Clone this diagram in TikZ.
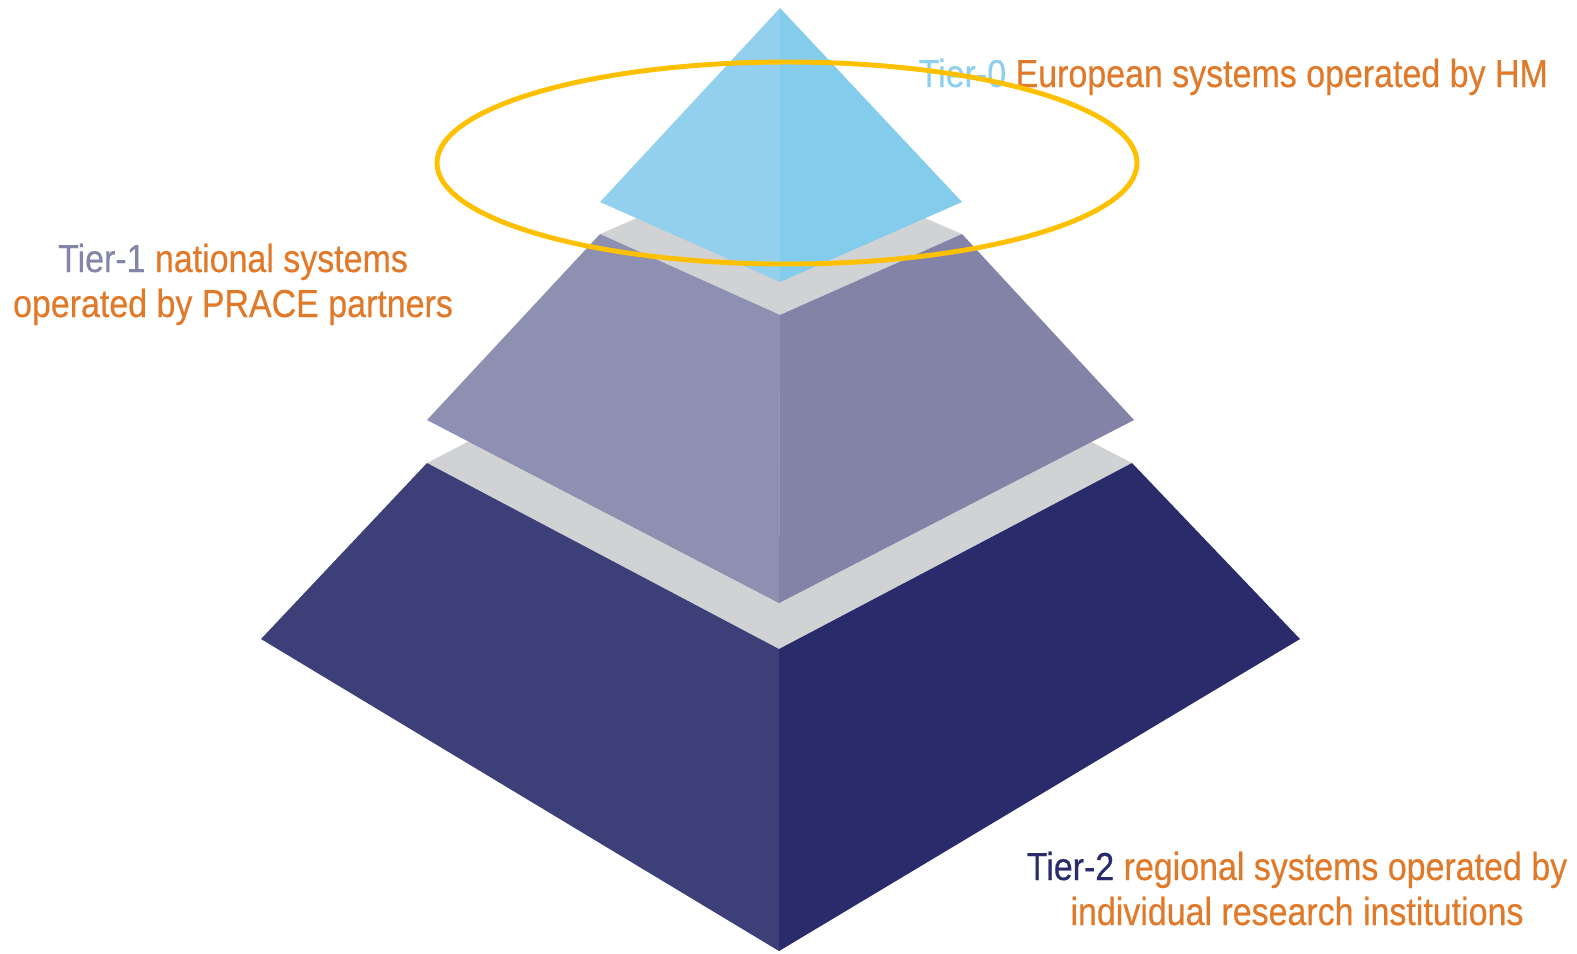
\documentclass[tikz,border=0pt]{standalone}
\usepackage{fontspec}
\newfontfamily\tierfont[FakeStretch=0.87, FakeBold=0.4]{Liberation Sans}
\usepackage{tikz}

\definecolor{topL}{HTML}{92D0EE}
\definecolor{topR}{HTML}{83CCEC}
\definecolor{midL}{HTML}{8D90B0}
\definecolor{midR}{HTML}{8283A6}
\definecolor{lowL}{HTML}{3C3F78}
\definecolor{lowR}{HTML}{292B6B}
\definecolor{slab}{HTML}{D1D2D4}
\definecolor{txtorange}{HTML}{E07A2A}
\definecolor{tierzero}{HTML}{8DD0EE}
\definecolor{tierone}{HTML}{8486A9}
\definecolor{halo}{HTML}{FFC000}

\tikzset{
  label text/.style={inner sep=0, font=\tierfont\fontsize{11.1}{12.8}\selectfont, text=txtorange},
}

\begin{document}
\begin{tikzpicture}[x=0.01cm, y=-0.01cm]
    \useasboundingbox (0, 0) rectangle (1577, 953);

    % Tier-2
    \fill [slab] (427, 463) -- (779, 280) -- (1132, 463) -- (779, 649) -- cycle;
    \fill [lowL] (427, 463) -- (261, 639) -- (779, 951) -- (779, 649) -- cycle;
    \fill [lowR] (1132, 463) -- (1300, 639) -- (779, 951) -- (779, 649) -- cycle;

    % Tier-1
    \fill [slab] (600, 234) -- (780, 156) -- (962, 234) -- (780, 315) -- cycle;
    \fill [midL] (600, 234) -- (427, 420) -- (779, 603) -- (780, 315) -- cycle;
    \fill [midR] (962, 234) -- (1134, 420) -- (779, 603) -- (780, 315) -- cycle;

    % Tier-0
    \fill [topL] (780, 8) -- (600, 202) -- (780, 282) -- cycle;
    \fill [topR] (780, 8) -- (962, 202) -- (780, 282) -- cycle;

    \node [label text, anchor=base west] (tier0) at (918, 87)
      {\textcolor{tierzero}{Tier-0} European systems operated by HM};
    \node [label text, anchor=base, align=center] (tier1) at (233, 317)
      {\textcolor{tierone}{Tier-1} national systems\\operated by PRACE partners};
    \node [label text, anchor=base, align=center] (tier2) at (1297, 925)
      {\textcolor{lowR}{Tier-2} regional systems operated by\\individual research institutions};

    \draw [halo, line width=1.4pt] (787, 163) ellipse [x radius=350, y radius=101];
\end{tikzpicture}
\end{document}
